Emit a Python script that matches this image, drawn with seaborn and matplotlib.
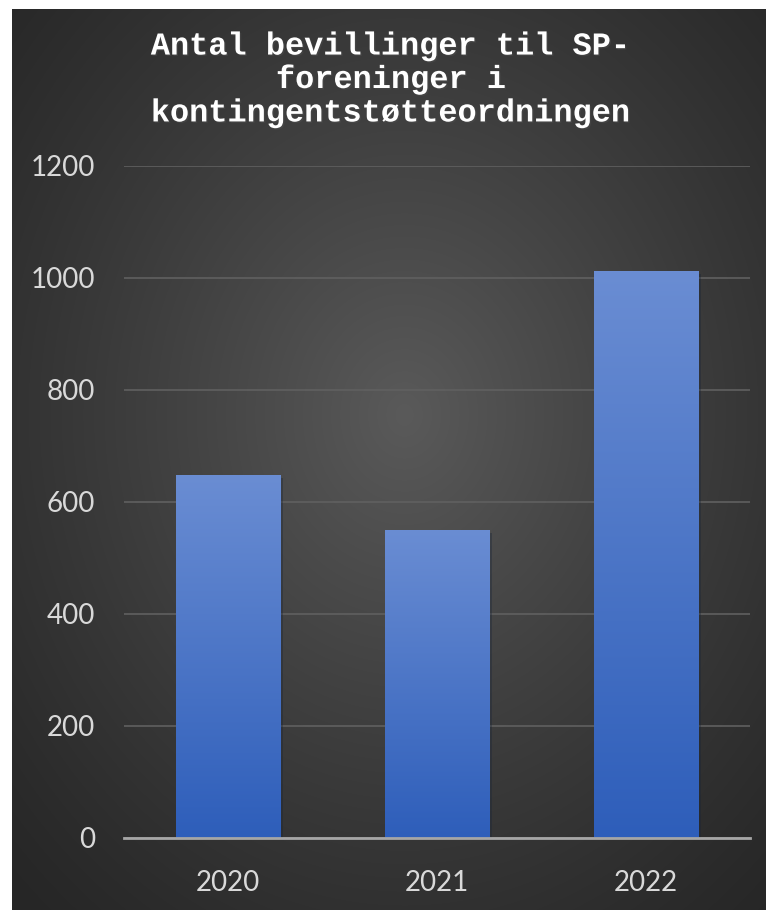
import numpy as np
import pandas as pd
import matplotlib.pyplot as plt
import matplotlib.patheffects as pe
import seaborn as sns
from matplotlib.colors import LinearSegmentedColormap, to_rgb

# data
years = ['2020', '2021', '2022']
grants = [648, 550, 1012]
yticks = [0, 200, 400, 600, 800, 1000, 1200]
title = 'Antal bevillinger til SP-\nforeninger i\nkontingentstøtteordningen'

df = pd.DataFrame({'year': years, 'grants': grants})

sns.set_theme(style='dark')
plt.rcParams['font.family'] = ['Lato', 'DejaVu Sans']

fig = plt.figure(figsize=(7.66, 9.10), dpi=100)
fig.patch.set_facecolor('white')

# dark panel with a soft radial glow
bg = fig.add_axes([12 / 766, 0, 754 / 766, 901 / 910], zorder=0)
h, w = 901, 754
yy, xx = np.mgrid[0:h, 0:w]
r = np.sqrt(((xx - w * 0.52) / (w * 0.75)) ** 2 + ((yy - h * 0.45) / (h * 0.75)) ** 2)
t = np.clip(1 - r, 0, 1)[..., None] ** 1.2
dark, light = np.array(to_rgb('#262626')), np.array(to_rgb('#5a5a5a'))
bg.imshow(dark + (light - dark) * t, aspect='auto', extent=[0, 1, 0, 1])
bg.axis('off')

ax = fig.add_axes([124 / 766, 1 - 838 / 910, 626 / 766, 672 / 910], zorder=1)
ax.patch.set_alpha(0)
sns.barplot(data=df, x='year', y='grants', width=0.5, color='#4472C4',
            linewidth=0, edgecolor='none', ax=ax)

# vertical gradient on each bar, with a faint drop shadow
cmap = LinearSegmentedColormap.from_list('bar', ['#2E5EBA', '#6A8DD3'])
grad = np.linspace(0, 1, 256).reshape(-1, 1)
for p in ax.patches:
    p.set_path_effects([pe.SimplePatchShadow(offset=(2, -2), alpha=0.35), pe.Normal()])
    x0, bw, bh = p.get_x(), p.get_width(), p.get_height()
    im = ax.imshow(grad, cmap=cmap, origin='lower', aspect='auto',
                   extent=[x0, x0 + bw, 0, bh], zorder=p.get_zorder() + 0.1)
    im.set_clip_path(p)

ax.set_xlim(-0.5, 2.5)
ax.set_ylim(0, 1200)
ax.set_yticks(yticks)
ax.set_xlabel('')
ax.set_ylabel('')
ax.yaxis.grid(True, color='#606060', lw=1.2)
ax.xaxis.grid(False)
ax.set_axisbelow(True)
for s in ['top', 'right', 'left']:
    ax.spines[s].set_visible(False)
ax.spines['bottom'].set_color('#A6A6A6')
ax.spines['bottom'].set_linewidth(2)
ax.spines['bottom'].set_zorder(5)
ax.tick_params(axis='y', length=0, pad=21, labelsize=20, labelcolor='#D9D9D9')
ax.tick_params(axis='x', length=0, pad=23, labelsize=20, labelcolor='#D9D9D9')

fig.text(0.511, 1 - 80 / 910, title, ha='center', va='center',
         family=['Liberation Mono', 'DejaVu Sans Mono'], weight='bold',
         size=23, color='white', linespacing=1.15,
         path_effects=[pe.withSimplePatchShadow(offset=(1, -1), alpha=0.5)])

fig.savefig('out.png', dpi=100, facecolor=fig.get_facecolor())
